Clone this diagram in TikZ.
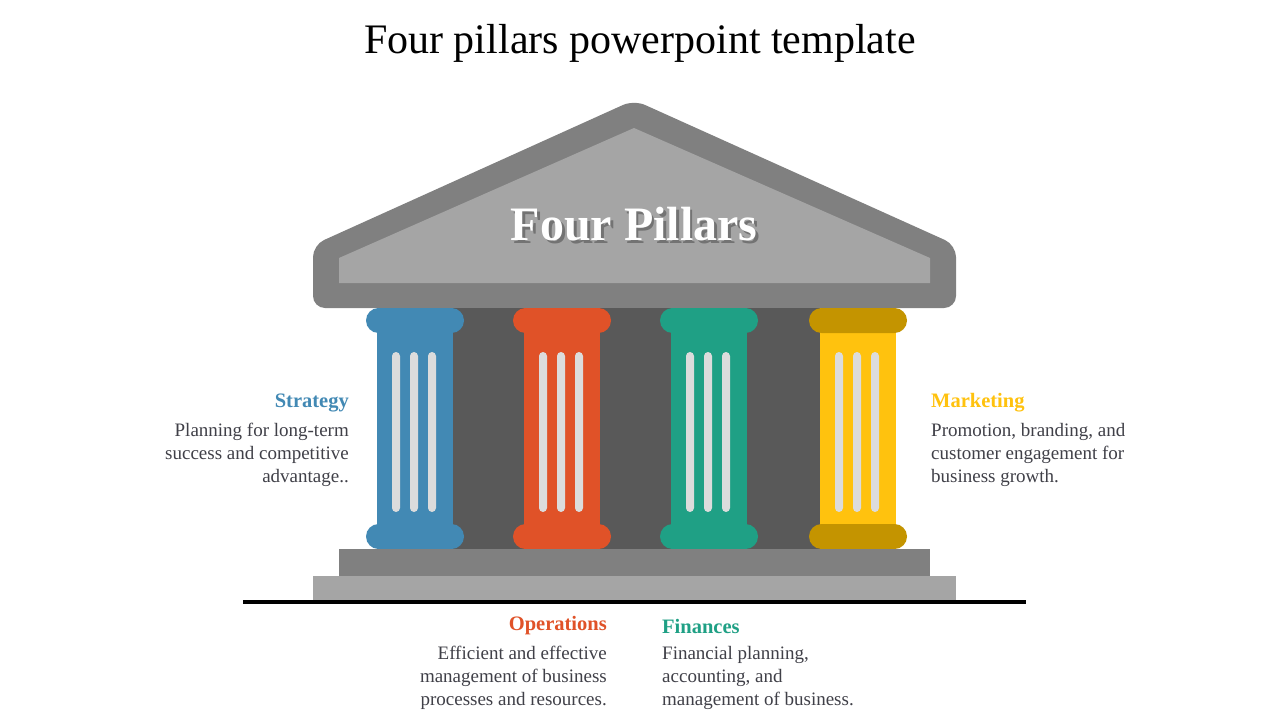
\documentclass[tikz,border=0pt]{standalone}
\usepackage{fontspec}
\setmainfont{Liberation Serif}
\definecolor{roofo}{RGB}{128,128,128}
\definecolor{roofi}{RGB}{165,165,165}
\definecolor{back}{RGB}{89,89,89}
\definecolor{cblue}{RGB}{66,137,180}
\definecolor{corange}{RGB}{224,82,40}
\definecolor{cgreen}{RGB}{31,160,133}
\definecolor{cyellow}{RGB}{255,194,14}
\definecolor{cyellowd}{RGB}{196,148,0}
\definecolor{txt}{RGB}{64,64,72}
\definecolor{stripe}{RGB}{220,220,220}
\tikzset{
 body/.style={font=\fontsize{19}{23}\selectfont, text=txt, inner sep=0pt},
 head/.style={font=\fontsize{20.5}{24}\selectfont\bfseries, inner sep=0pt},
}
\newcommand{\pillar}[3]{% x-left, color, capcolor
 \fill[#2] (#1,308) rectangle ++(76,241);
 \fill[#3, rounded corners=12.5] (#1-11,308) rectangle ++(98,25);
 \fill[#3, rounded corners=12.5] (#1-11,524) rectangle ++(98,25);
 \foreach \d in {15,33,51}{\fill[stripe, rounded corners=4] (#1+\d,352) rectangle ++(8,160);}
}
\begin{document}
\begin{tikzpicture}[x=1pt,y=-1pt]
\useasboundingbox (0,0) rectangle (1280,720);
\fill[white] (0,0) rectangle (1280,720);
\node[font=\fontsize{42}{46}\selectfont] (title) at (640,43) {Four pillars powerpoint template};
% roof
\fill[roofo, rounded corners=12] (313,308) -- (313,245) -- (634,100) -- (956,245) -- (956,308) -- cycle;
\fill[roofi] (339,283) -- (339,258) -- (634,128) -- (930,258) -- (930,283) -- cycle;
\node[font=\fontsize{48}{52}\selectfont\bfseries, text=white] (roof) at (634,224) {\makebox[0pt][l]{\raisebox{-3pt}[0pt][0pt]{\hspace{3pt}\textcolor{black!55}{Four Pillars}}}Four Pillars};
% back
\fill[back] (378,308) rectangle (895,549);
\pillar{377}{cblue}{cblue}
\pillar{524}{corange}{corange}
\pillar{671}{cgreen}{cgreen}
\pillar{820}{cyellow}{cyellowd}
% base
\fill[roofo] (339,549) rectangle (930,576);
\fill[roofi] (313,576) rectangle (956,601);
\draw[line width=4] (243,602) -- (1026,602);
% texts
\node[head, text=cblue, anchor=east] (s) at (349,403) {Strategy};
\node[body, anchor=north east, align=right] (st) at (349,423) {Planning for long-term\\success and competitive\\advantage..};
\node[head, text=cyellow, anchor=west] (m) at (931,403) {Marketing};
\node[body, anchor=north west, align=left] (mt) at (931,423) {Promotion, branding, and\\customer engagement for\\business growth.};
\node[head, text=corange, anchor=east] (o) at (607,626) {Operations};
\node[body, anchor=north east, align=right] (ot) at (607,646) {Efficient and effective\\management of business\\processes and resources.};
\node[head, text=cgreen, anchor=west] (f) at (662,626) {Finances};
\node[body, anchor=north west, align=left] (ft) at (662,646) {Financial planning,\\accounting, and\\management of business.};
\end{tikzpicture}
\end{document}
